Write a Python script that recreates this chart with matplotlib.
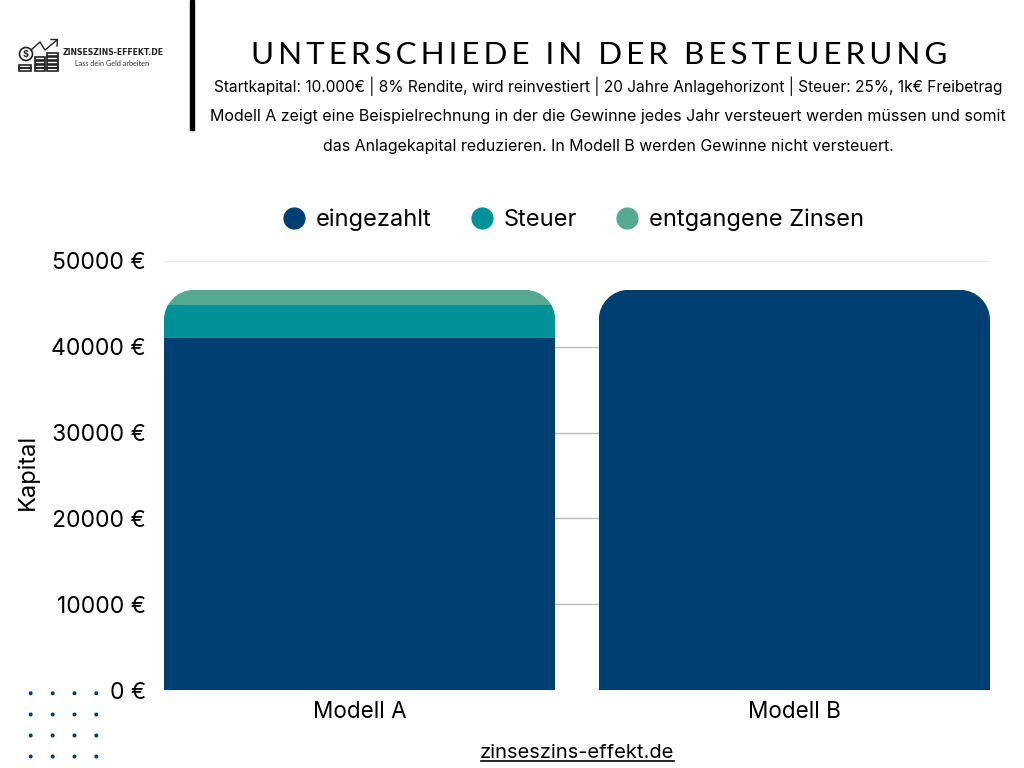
import matplotlib
matplotlib.use("Agg")
import matplotlib.pyplot as plt
from matplotlib.lines import Line2D
from matplotlib.patches import Circle, Rectangle
from matplotlib.path import Path

plt.rcParams['font.family'] = ['Inter', 'DejaVu Sans']

# Data
modelle = ["Modell A", "Modell B"]
eingezahlt = [40980, 46610]
steuer = [3850, 0]
zinsen = [1780, 0]
y_ticks = [0, 10000, 20000, 30000, 40000, 50000]
y_labels = ["0 €", "10000 €", "20000 €", "30000 €", "40000 €", "50000 €"]
legend_labels = ["eingezahlt", "Steuer", "entgangene Zinsen"]
colors = ["#003f72", "#009199", "#55a892"]

title = "UNTERSCHIEDE IN DER BESTEUERUNG"
subtitle = [
    "Startkapital: 10.000€ | 8% Rendite, wird reinvestiert | 20 Jahre Anlagehorizont | Steuer: 25%, 1k€ Freibetrag",
    "Modell A zeigt eine Beispielrechnung in der die Gewinne jedes Jahr versteuert werden müssen und somit",
    "das Anlagekapital reduzieren. In Modell B werden Gewinne nicht versteuert.",
]

W, H = 1024, 768
fig = plt.figure(figsize=(10.24, 7.68), dpi=100, facecolor="white")
ax = fig.add_axes([164 / W, 1 - 690.2 / H, 826 / W, 429.5 / H])


def rounded_top(x0, x1, top, rx=0.069, ry=3500):
    # bar outline with two round upper corners, used as clip
    k = 0.45
    verts = [(x0, 0), (x0, top - ry),
             (x0, top - ry * k), (x0 + rx * k, top), (x0 + rx, top),
             (x1 - rx, top),
             (x1 - rx * k, top), (x1, top - ry * k), (x1, top - ry),
             (x1, 0), (x0, 0)]
    codes = [Path.MOVETO, Path.LINETO,
             Path.CURVE4, Path.CURVE4, Path.CURVE4,
             Path.LINETO,
             Path.CURVE4, Path.CURVE4, Path.CURVE4,
             Path.LINETO, Path.CLOSEPOLY]
    return Path(verts, codes)


width = 0.9
pos = range(len(modelle))
bottom2 = [a + b for a, b in zip(eingezahlt, steuer)]
b1 = ax.bar(pos, eingezahlt, width, color=colors[0], zorder=2)
b2 = ax.bar(pos, steuer, width, bottom=eingezahlt, color=colors[1], zorder=2)
b3 = ax.bar(pos, zinsen, width, bottom=bottom2, color=colors[2], zorder=2)
for i in pos:
    top = bottom2[i] + zinsen[i]
    clip = rounded_top(i - width / 2, i + width / 2, top)
    for bars in (b1, b2, b3):
        bars[i].set_clip_path(clip, transform=ax.transData)

ax.set_xlim(-0.45, 1.45)
ax.set_ylim(0, 50000)
ax.set_xticks(list(pos), modelle, fontsize=16.2, color="black")
ax.set_yticks(y_ticks, y_labels, fontsize=16.5, color="black")
ax.tick_params(length=0, pad=13, axis="y")
ax.tick_params(length=0, pad=8, axis="x")
ax.set_axisbelow(True)
ax.yaxis.grid(True, color="#bbbbbb", lw=1)
ax.get_ygridlines()[-1].set_color("#eeeeee")
ax.get_ygridlines()[0].set_visible(False)
for s in ax.spines.values():
    s.set_visible(False)
ax.set_ylabel("Kapital", fontsize=17)
ax.yaxis.set_label_coords(-125 / 826, 218 / 429.5)

handles = [Line2D([], [], ls="", marker="o", ms=15, color=c) for c in colors]
fig.legend(handles, legend_labels, loc="center", bbox_to_anchor=(572 / W, 1 - 220 / H),
           ncol=3, frameon=False, fontsize=17, columnspacing=1.5,
           handletextpad=0.35, handlelength=1.2)

# overlay in pixel coordinates for header, logo and footer
ov = fig.add_axes([0, 0, 1, 1], facecolor="none")
ov.set_xlim(0, W)
ov.set_ylim(H, 0)
ov.axis("off")

ov.add_patch(Rectangle((190, 0), 4, 130, color="black"))
ov.text(599, 55, "\u200a\u200a".join(title), fontsize=22.6, ha="center", va="center",
        family=["Lato", "DejaVu Sans"])
for y, size, line in zip([86, 116, 146], [11.13, 11.54, 11.46], subtitle):
    ov.text(608, y, line, fontsize=size, ha="center", va="center")

ov.text(577, 753, "zinseszins-effekt.de", fontsize=14.5, ha="center", va="center")
ov.plot([481, 674], [761, 761], color="black", lw=1.2)

# dots bottom left
for x in [30.7, 52.7, 74.5, 96.3]:
    for y in [693.3, 714.5, 735.5, 756.5]:
        ov.add_patch(Circle((x, y), 2, color=colors[0], lw=0))

# logo
ink = "#222222"
ov.add_patch(Circle((26, 54), 6.5, fc="none", ec=ink, lw=1.2))
ov.text(26, 54, "$", fontsize=6.5, ha="center", va="center", color=ink, weight="bold")
ov.plot([31, 40, 45, 57], [50, 42, 50, 40], color=ink, lw=1)
ov.plot([51, 57.5, 57], [39.5, 39.5, 46], color=ink, lw=1)
for x0, x1, ys in [(19, 31, [65, 68]), (35, 45, [57, 61, 65, 68]), (47, 58, [53, 57, 61, 65, 68])]:
    for y in ys:
        ov.add_patch(Rectangle((x0, y), x1 - x0, 3, fc="none", ec=ink, lw=1.2))
ov.text(113, 52.5, "ZINSESZINS-EFFEKT.DE", fontsize=5.6, ha="center", va="center",
        weight="bold", family="DejaVu Sans", color=ink)
ov.text(112, 63, "Lass dein Geld arbeiten", fontsize=5.2, ha="center", va="center",
        family="Lato", color="#333333")

fig.savefig("out.png", dpi=100)
